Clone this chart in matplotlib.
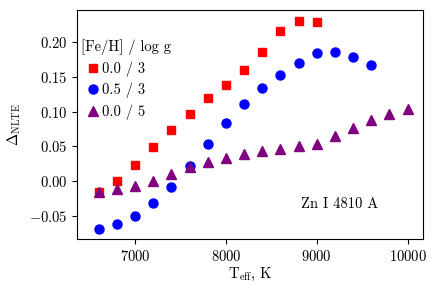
import numpy as np
import matplotlib
matplotlib.use('Agg')
import matplotlib.pyplot as plt

matplotlib.rc('font', family='serif', size=10.5)
matplotlib.rcParams['font.serif'] = ['cmr10']
matplotlib.rcParams['mathtext.fontset'] = 'cm'
matplotlib.rcParams['axes.formatter.use_mathtext'] = True

# NLTE corrections, Zn I 4810 A
teff_sq = [6600, 6800, 7000, 7200, 7400, 7600, 7800, 8000, 8200, 8400, 8600, 8800, 9000]
dnlte_sq = [-0.015, 0.000, 0.023, 0.049, 0.074, 0.097, 0.120, 0.138, 0.160, 0.186, 0.216, 0.230, 0.229]

teff_ci = [6600, 6800, 7000, 7200, 7400, 7600, 7800, 8000, 8200, 8400, 8600, 8800,
           9000, 9200, 9400, 9600]
dnlte_ci = [-0.069, -0.062, -0.050, -0.032, -0.008, 0.022, 0.054, 0.084, 0.111, 0.134,
            0.152, 0.170, 0.184, 0.186, 0.179, 0.167]

teff_tr = [6600, 6800, 7000, 7200, 7400, 7600, 7800, 8000, 8200, 8400, 8600, 8800,
           9000, 9200, 9400, 9600, 9800, 10000]
dnlte_tr = [-0.015, -0.012, -0.007, 0.000, 0.010, 0.021, 0.028, 0.033, 0.039, 0.043,
            0.046, 0.050, 0.054, 0.065, 0.076, 0.088, 0.097, 0.104]

labels = ['0.0 / 3', '0.5 / 3', '0.0 / 5']

fig = plt.figure(figsize=(4.37, 2.91), dpi=100)
ax = fig.add_axes([0.176, 0.179, 0.792, 0.787])

ax.plot(teff_sq, dnlte_sq, 's', color='#ff0000', ms=6, label=labels[0])
ax.plot(teff_ci, dnlte_ci, 'o', color='#0000ff', ms=6.5, label=labels[1])
ax.plot(teff_tr, dnlte_tr, '^', color='#800080', ms=6.5, label=labels[2])

ax.set_xlim(6360, 10170)
ax.set_ylim(-0.083, 0.246)
ax.set_xticks([7000, 8000, 9000, 10000])
ax.set_yticks([-0.05, 0.00, 0.05, 0.10, 0.15, 0.20])
ax.yaxis.set_major_formatter(matplotlib.ticker.FormatStrFormatter('$%.2f$'))

ax.set_xlabel(r'T$_{\rm eff}$, K', labelpad=2)
ax.set_ylabel(r'$\Delta_{\rm NLTE}$')

ax.legend(title='[Fe/H] / log g', loc='upper left', frameon=False,
          bbox_to_anchor=(-0.013, 0.91), alignment='left',
          handlelength=1.6, handletextpad=-0.2, labelspacing=0.42,
          borderaxespad=0.2, title_fontsize=10.5)
ax.text(0.76, 0.15, 'Zn I 4810 A', transform=ax.transAxes, ha='center', va='center')

plt.savefig('out.png', dpi=100)
